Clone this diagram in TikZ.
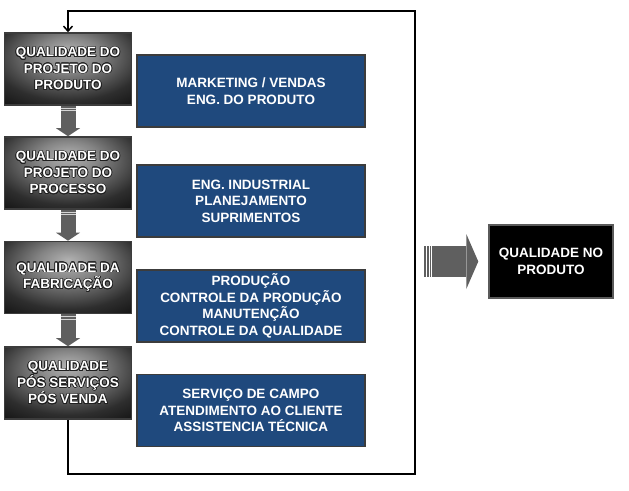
\documentclass[tikz,border=0pt]{standalone}
\usepackage{fontspec}
\setmainfont{Liberation Sans}
\usepackage[copies]{contour}
\contourlength{0.7pt}
\usetikzlibrary{positioning,arrows.meta,calc}
\definecolor{boxblue}{HTML}{1F497D}
\definecolor{edgegray}{HTML}{3C3C3C}
\definecolor{arrowgray}{HTML}{5F5F5F}
\definecolor{stripegray}{HTML}{D4D4D4}
\definecolor{resedge}{HTML}{5A5A5A}
\definecolor{glowgray}{HTML}{202020}
\pgfdeclareradialshading{spot}{\pgfpoint{0bp}{12bp}}{%
  color(0bp)=(black!30); color(12bp)=(black!48);
  color(30bp)=(black!82); color(46bp)=(black!97); color(90bp)=(black)}
\newcommand{\glow}[1]{\contour{glowgray}{#1}}

\tikzset{
  stage/.style={draw=edgegray, line width=1.6pt, shade, shading=spot,
    minimum width=127pt, minimum height=72pt, inner sep=0pt,
    text=white, align=center, font=\bfseries\fontsize{13.5}{16.5}\selectfont},
  dept/.style={draw=edgegray, line width=1.6pt, fill=boxblue,
    minimum width=228pt, minimum height=72pt, inner sep=0pt,
    text=white, align=center, font=\bfseries\fontsize{13.5}{16.5}\selectfont},
  result/.style={draw=resedge, line width=1.4pt, fill=black,
    minimum width=124pt, minimum height=73pt, inner sep=0pt,
    text=white, align=center, font=\bfseries\fontsize{13.5}{16.5}\selectfont},
  stripe/.style={draw=stripegray, line width=0.9pt},
  loop/.style={line width=1.5pt, draw=black}
}

\begin{document}
\begin{tikzpicture}[x=1pt,y=-1pt]
  \useasboundingbox (0,0) rectangle (629,490);

  % stages on the left
  \node[stage] (q1) at (68,69) {\glow{QUALIDADE DO}\\\glow{PROJETO DO}\\\glow{PRODUTO}};
  \node[stage] (q2) at (68,173) {\glow{QUALIDADE DO}\\\glow{PROJETO DO}\\\glow{PROCESSO}};
  \node[stage] (q3) at (68,277.5) {\glow{QUALIDADE DA}\\\glow{FABRICAÇÃO}};
  \node[stage] (q4) at (68,383) {\glow{QUALIDADE}\\\glow{PÓS SERVIÇOS}\\\glow{PÓS VENDA}};

  % departments
  \node[dept] (d1) at (251,91) {MARKETING / VENDAS\\ENG. DO PRODUTO};
  \node[dept] (d2) at (251,201) {ENG. INDUSTRIAL\\PLANEJAMENTO\\SUPRIMENTOS};
  \node[dept] (d3) at (251,306) {PRODUÇÃO\\CONTROLE DA PRODUÇÃO\\MANUTENÇÃO\\CONTROLE DA QUALIDADE};
  \node[dept] (d4) at (251,410.5) {SERVIÇO DE CAMPO\\ATENDIMENTO AO CLIENTE\\ASSISTENCIA TÉCNICA};

  \node[result] (res) at (551,261.5) {QUALIDADE NO\\PRODUTO};

  % block arrows between stages
  \foreach \a/\b in {q1/q2,q2/q3,q3/q4}{
    \fill[arrowgray] ($(\a.south)+(-7.5,0)$) rectangle ($(\b.north)+(7.5,-8)$);
    \fill[arrowgray] ($(\b.north)+(-12,-8)$) -- ($(\b.north)+(12,-8)$) -- (\b.north) -- cycle;
    \draw[stripe] ($(\a.south)+(-7.5,2.5)$) -- ++(15,0);
    \draw[stripe] ($(\a.south)+(-7.5,5)$) -- ++(15,0);
  }

  % feedback loop
  \coordinate (loopbr) at (415,474);
  \coordinate (looptr) at (415,11);
  \draw[loop, -{Straight Barb[length=5pt,width=9pt]}]
    (q4.south) |- (loopbr) -- (looptr) -| (q1.north);

  % big arrow to result
  \coordinate (bigtip) at ($(res.west)+(-10,0)$);
  \fill[arrowgray] ($(bigtip)+(-46,-15.5)$) rectangle ($(bigtip)+(-12,15.5)$);
  \fill[arrowgray] ($(bigtip)+(-12,-27.5)$) -- ($(bigtip)+(-12,27.5)$) -- (bigtip) -- cycle;
  \fill[arrowgray] ($(bigtip)+(-54,-15.5)$) rectangle ++(1.5,31);
  \fill[arrowgray] ($(bigtip)+(-51,-15.5)$) rectangle ++(1.5,31);
  \fill[arrowgray] ($(bigtip)+(-48.5,-15.5)$) rectangle ++(1.5,31);
\end{tikzpicture}
\end{document}
